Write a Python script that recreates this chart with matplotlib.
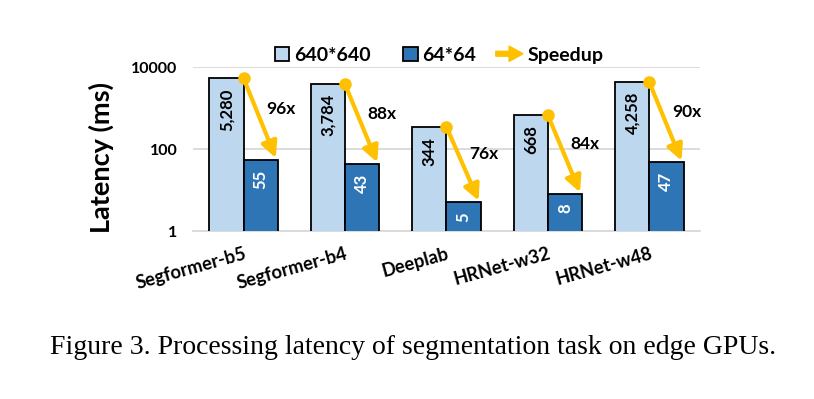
import matplotlib.pyplot as plt
import matplotlib.patches as mpatches
from matplotlib.legend_handler import HandlerPatch
import numpy as np

models = ["Segformer-b5", "Segformer-b4", "Deeplab", "HRNet-w32", "HRNet-w48"]
lat_640 = [5280, 3784, 344, 668, 4258]
lat_64 = [55, 43, 5, 8, 47]
speedup = ["96x", "88x", "76x", "84x", "90x"]

lightBlue = "#BDD7EE"
darkBlue = "#2E75B6"
gold = "#FFC000"
gridGrey = "#D9D9D9"

plt.rcParams['font.family'] = ['Lato', 'DejaVu Sans']
plt.rcParams['font.weight'] = 'bold'

fig = plt.figure(figsize=(8.14, 3.99), dpi=100)
ax = fig.add_axes([0.237, 0.421, 0.623, 0.411])

x = np.arange(len(models))
w = 0.337
ax.bar(x - w / 2, lat_640, w, color=lightBlue, edgecolor="black", linewidth=1.3, zorder=3)
ax.bar(x + w / 2, lat_64, w, color=darkBlue, edgecolor="black", linewidth=1.3, zorder=3)

ax.set_yscale('log')
ax.set_ylim(1, 10000)
ax.set_xlim(-0.5, len(models) - 0.5)
ax.set_yticks([1, 100, 10000])
ax.set_yticklabels(["1", "100", "10000"])
ax.minorticks_off()
ax.yaxis.grid(True, color=gridGrey, linewidth=1.3, zorder=0)
for s in ["top", "right", "left"]:
    ax.spines[s].set_visible(False)
ax.spines["bottom"].set_color(gridGrey)
ax.spines["bottom"].set_linewidth(1.3)
ax.tick_params(axis='both', length=0, labelsize=11.5)
ax.tick_params(axis='y', pad=11)

ax.set_xticks(x)
ax.set_xticklabels(models, rotation=15.5, ha='right', rotation_mode='anchor', fontsize=13.2)
ax.tick_params(axis='x', pad=10)

ax.set_ylabel("Latency (ms)", fontsize=19.5, fontweight='bold')
ax.yaxis.set_label_coords(-0.155, 0.45)

for i in range(len(models)):
    ax.annotate(f"{lat_640[i]:,}", (x[i] - w / 2, lat_640[i]), xytext=(0, -7), textcoords='offset points',
                rotation=90, ha='center', va='top', fontsize=12, color='black', zorder=5)
    ax.annotate(f"{lat_64[i]:,}", (x[i] + w / 2, lat_64[i]), xytext=(0, -7), textcoords='offset points',
                rotation=90, ha='center', va='top', fontsize=12, color='white', zorder=5)
    # speedup arrow
    ax.annotate('', xy=(x[i] + w - 0.02, lat_64[i] * 1.1), xytext=(x[i], lat_640[i]),
                arrowprops=dict(arrowstyle='-|>', color=gold, lw=3, mutation_scale=24, shrinkA=0, shrinkB=0),
                zorder=6)
    ax.plot(x[i], lat_640[i], 'o', color=gold, ms=8, zorder=7, clip_on=False)
    mid = 10 ** ((np.log10(lat_640[i]) + np.log10(lat_64[i])) / 2 + 0.25)
    ax.text(x[i] + w + 0.03, mid, speedup[i], ha='center', va='center', fontsize=12.5, zorder=6)


def make_square(legend, orig_handle, xdescent, ydescent, width, height, fontsize):
    s = height * 1.05
    return mpatches.Rectangle((width - s, (height - s) / 2), s, s)


def make_arrow(legend, orig_handle, xdescent, ydescent, width, height, fontsize):
    return mpatches.FancyArrow(0, height / 2, width, 0, width=3.5, head_width=11, head_length=10,
                               length_includes_head=True)


h1 = mpatches.Patch(facecolor=lightBlue, edgecolor="black", linewidth=1.3)
h2 = mpatches.Patch(facecolor=darkBlue, edgecolor="black", linewidth=1.3)
h3 = mpatches.FancyArrow(0, 0, 1, 0, color=gold)
fig.legend([h1, h2, h3], ["640*640", "64*64", "Speedup"], ncol=3, frameon=False,
           loc='center', bbox_to_anchor=(0.532, 0.862), fontsize=14, handlelength=1.4,
           handletextpad=0.25, columnspacing=1.0,
           handler_map={h1: HandlerPatch(patch_func=make_square), h2: HandlerPatch(patch_func=make_square),
                        h3: HandlerPatch(patch_func=make_arrow)})

fig.text(0.507, 0.128, "Figure 3. Processing latency of segmentation task on edge GPUs.",
         ha='center', va='center', fontsize=20, fontweight='normal', family=['Liberation Serif'])

fig.savefig("out.png", dpi=100)
